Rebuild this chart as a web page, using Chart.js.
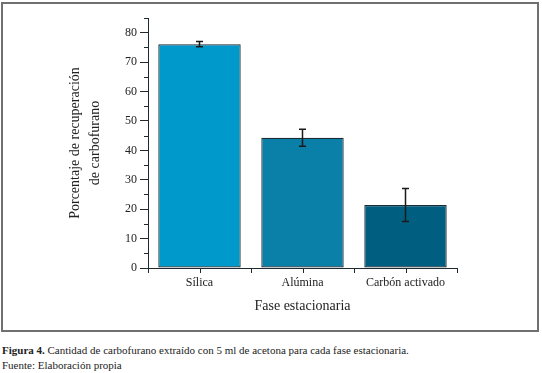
<!DOCTYPE html>
<html>
<head>
<meta charset="utf-8">
<script src="https://cdn.jsdelivr.net/npm/chart.js"></script>
<style>
  body{margin:0;background:#fff;width:542px;height:373px;position:relative;overflow:hidden;color:#222;}
  #frame{position:absolute;left:1px;top:2px;width:534px;height:326px;border:2px solid #707070;}
  #wrap{position:absolute;left:0;top:0;width:542px;height:335px;}
  .cap{position:absolute;left:2px;font-family:'Liberation Serif','DejaVu Serif',serif;font-size:11px;white-space:nowrap;}
</style>
</head>
<body>
<div id="frame"></div>
<div id="wrap"><canvas id="chart" width="542" height="335"></canvas></div>
<div class="cap" style="top:344px"><b>Figura 4.</b> Cantidad de carbofurano extraído con 5 ml de acetona para cada fase estacionaria.</div>
<div class="cap" style="top:359px">Fuente: Elaboración propia</div>

<script>
  /*** datos de la grafica ***/
  const categories = ['Sílica', 'Alúmina', 'Carbón activado'];
  const recovery = [76.1, 44.3, 21.4];
  const errors = [0.9, 2.9, 5.6];
  const barColors = ['#0099cc', '#0a7fa8', '#005f80'];
  const yTicks = [0, 10, 20, 30, 40, 50, 60, 70, 80];
  const yMinorTicks = [5, 15, 25, 35, 45, 55, 65, 75, 85];

  const axisColor = '#1e2a30';

  /*** plugin para barras de error y marcas menores ***/
  const extras = {
    id: 'extras',
    afterDatasetsDraw(chart){
      const ctx = chart.ctx;
      const y = chart.scales.y, x = chart.scales.x;
      const meta = chart.getDatasetMeta(0);
      ctx.save();
      ctx.strokeStyle = axisColor;
      ctx.lineWidth = 1;
      // marcas menores del eje y
      yMinorTicks.forEach(v => {
        const py = Math.round(y.getPixelForValue(v)) + 0.5;
        ctx.beginPath();
        ctx.moveTo(x.left - 4, py);
        ctx.lineTo(x.left, py);
        ctx.stroke();
      });
      // marcas en el centro de cada categoria
      categories.forEach((c, i) => {
        const px = Math.round(x.getPixelForValue(i)) + 0.5;
        ctx.beginPath();
        ctx.moveTo(px, y.bottom);
        ctx.lineTo(px, y.bottom + 5);
        ctx.stroke();
      });
      // barras de error
      ctx.strokeStyle = '#1a1a1a';
      ctx.lineWidth = 1.5;
      meta.data.forEach((bar, i) => {
        const top = y.getPixelForValue(recovery[i] + errors[i]);
        const bot = y.getPixelForValue(recovery[i] - errors[i]);
        ctx.beginPath();
        ctx.moveTo(bar.x, top);
        ctx.lineTo(bar.x, bot);
        ctx.moveTo(bar.x - 3.5, top);
        ctx.lineTo(bar.x + 3.5, top);
        ctx.moveTo(bar.x - 3.5, bot);
        ctx.lineTo(bar.x + 3.5, bot);
        ctx.stroke();
      });
      ctx.restore();
    }
  };

  const serif = '"Liberation Serif", serif';

  new Chart(document.getElementById('chart'), {
    type: 'bar',
    data: {
      labels: categories,
      datasets: [{
        data: recovery,
        backgroundColor: barColors,
        borderColor: '#1a2b33',
        borderWidth: 1.2,
        borderSkipped: false,
        barPercentage: 1,
        categoryPercentage: 0.8
      }]
    },
    options: {
      responsive: false,
      animation: false,
      layout: { padding: { left: 0, right: 85, top: 18, bottom: 0 } },
      plugins: {
        legend: { display: false },
        tooltip: { enabled: false }
      },
      scales: {
        x: {
          afterFit: s => { s.height = 67; },
          grid: { display: true, drawOnChartArea: false, drawTicks: true, tickLength: 5, color: axisColor, tickColor: axisColor },
          border: { display: true, color: axisColor, width: 1 },
          ticks: { color: '#222', padding: 3, font: { family: serif, size: 12 } },
          title: {
            display: true,
            text: 'Fase estacionaria',
            color: '#222',
            font: { family: serif, size: 14, lineHeight: 1.2 },
            padding: { top: 0, bottom: 20 }
          }
        },
        y: {
          min: 0,
          max: 85,
          afterFit: s => { s.width = 148; },
          afterBuildTicks: s => { s.ticks = yTicks.map(v => ({ value: v })); },
          grid: { display: true, drawOnChartArea: false, drawTicks: true, tickLength: 8, color: axisColor, tickColor: axisColor },
          border: { display: true, color: axisColor, width: 1 },
          ticks: { color: '#222', padding: 3, font: { family: serif, size: 12 } },
          title: {
            display: true,
            text: ['Porcentaje de recuperación', 'de carbofurano'],
            color: '#222',
            font: { family: serif, size: 14, lineHeight: 20 / 14 },
            padding: { top: 65, bottom: 0 }
          }
        }
      }
    },
    plugins: [extras]
  });
</script>
</body>
</html>
